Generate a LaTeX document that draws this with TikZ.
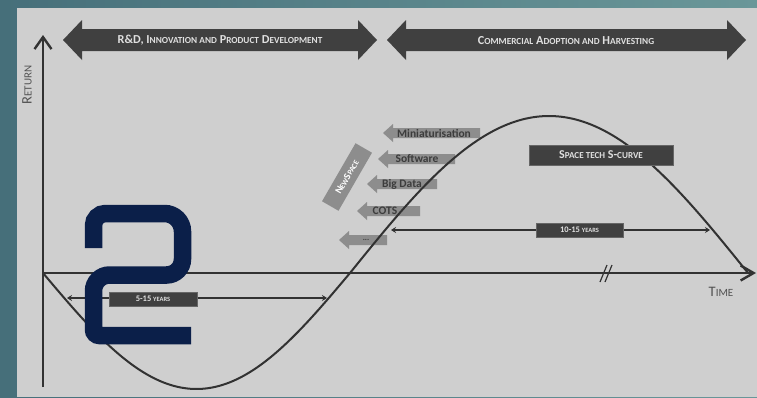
\documentclass[tikz,border=0pt]{standalone}
\usepackage{fontspec}
\setmainfont{Carlito}
\usetikzlibrary{arrows.meta}

% fake small caps: lower-case letters set as capitals at 76% of the current size
\makeatletter
\newcommand{\lc}[1]{{\fontsize{\the\dimexpr\f@size pt*76/100\relax}{\baselineskip}\selectfont #1}}
\makeatother
% grey left-pointing tech arrow: tip x, right end x, y, node name, label centre x, label
\newcommand{\techarrow}[6]{%
  \fill[techfill] (#1,#3) -- ++(10,-9) -- ++(0,4) -- (#2,#3-5) -- (#2,#3+5)
    -- (#1+10,#3+5) -- ++(0,4) -- cycle;
  \node[techtext] (#4) at (#5,#3) {#6};}

\definecolor{bgleft}{RGB}{70,111,122}
\definecolor{bgright}{RGB}{106,151,153}
\definecolor{panel}{RGB}{207,207,207}
\definecolor{darkbar}{RGB}{64,64,64}
\definecolor{inkline}{RGB}{50,50,50}
\definecolor{techfill}{RGB}{141,141,141}
\definecolor{techink}{RGB}{60,60,60}
\definecolor{navy}{RGB}{11,31,73}

\tikzset{
  axisline/.style={draw=inkline, line width=2.6pt},
  curveline/.style={draw=inkline, line width=2pt},
  spanline/.style={draw=inkline, line width=1.8pt,
    {Stealth[length=5pt,width=6pt]}-{Stealth[length=5pt,width=6pt]}},
  bartext/.style={text=white!88!black, font=\bfseries\fontsize{12.2}{13}\selectfont, inner sep=0pt},
  darkbox/.style={fill=darkbar, draw=darkbar!80!white, line width=0.6pt, text=white!88!black,
    font=\bfseries, inner sep=0pt},
  techtext/.style={text=techink, font=\bfseries\fontsize{11.5}{12}\selectfont, inner sep=0pt},
  axislabel/.style={text=black!68, font=\fontsize{14.5}{15}\selectfont, inner sep=0pt},
  twostroke/.style={draw=navy, line width=17.5pt},
}

\begin{document}
\begin{tikzpicture}[x=1pt,y=-1pt]
\useasboundingbox (0,0) rectangle (757,397);

% backdrop and light panel
\shade[left color=bgleft, right color=bgright] (0,0) rectangle (757,397);
\fill[panel] (17,8) rectangle (757,397);

% phase banners
\fill[darkbar] (63,40) -- (82,20) -- (82,29) -- (358,29) -- (358,20) -- (377,40)
  -- (358,60) -- (358,51) -- (82,51) -- (82,60) -- cycle;
\node[bartext] (rnd) at (220,40.5) {R\&D, I\lc{NNOVATION AND} P\lc{RODUCT} D\lc{EVELOPMENT}};
\fill[darkbar] (387,40) -- (406,20) -- (406,29) -- (727,29) -- (727,20) -- (746,40)
  -- (727,60) -- (727,51) -- (406,51) -- (406,60) -- cycle;
\node[bartext] (commercial) at (566,40.5) {C\lc{OMMERCIAL} A\lc{DOPTION AND} H\lc{ARVESTING}};

% technology drivers
\techarrow{383}{480}{133}{mini}{434}{Miniaturisation}
\techarrow{378}{455}{159}{soft}{417}{Software}
\techarrow{367}{437}{184}{bigdata}{402}{Big Data}
\techarrow{357}{420}{211}{cots}{385}{COTS}
\techarrow{339}{387}{240}{more}{366}{\fontsize{8}{9}\selectfont ...}
\node[fill=techfill, rotate=60, minimum width=67pt, minimum height=19pt, inner sep=0pt,
  text=white, font=\bfseries\fontsize{10}{11}\selectfont] (newspace) at (347,177)
  {N\lc{EW}S\lc{PACE}};

% axes
\coordinate (origin) at (43,273);
\coordinate (ybottom) at (43,387);
\coordinate (ytop) at (43,35);
\coordinate (xend) at (756,273);
\draw[axisline, -{Straight Barb[length=12pt,width=17pt,line width=2.4pt]}] (ybottom) -- (ytop);
\draw[axisline, -{Straight Barb[length=13pt,width=15pt,line width=2.4pt]}] (origin) -- (xend);
\node[axislabel, rotate=90] (return) at (27,85) {R\lc{ETURN}};
\node[axislabel] (time) at (721,292) {T\lc{IME}};

% axis break mark
\coordinate (b1a) at (600,282); \coordinate (b1b) at (607,265);
\coordinate (b2a) at (605,282); \coordinate (b2b) at (612,265);
\draw[inkline, line width=1.2pt] (b1a) -- (b1b) (b2a) -- (b2b);

% the S-curve
\draw[curveline]
  plot[domain=43:350, samples=90] (\x, {273+116*sin((\x-43)/307*180)})
  -- plot[domain=350:748, samples=110] (\x, {273-157*sin((\x-350)/398*180)});

% time spans
\coordinate (s1l) at (67,298); \coordinate (s1r) at (327,298);
\draw[spanline] (s1l) -- (s1r);
\node[darkbox, minimum width=88pt, minimum height=14pt, font=\bfseries\fontsize{8.5}{9}\selectfont]
  (fifteen) at (153,299) {5-15 \lc{YEARS}};
\coordinate (s2l) at (391,230); \coordinate (s2r) at (710,230);
\draw[spanline] (s2l) -- (s2r);
\node[darkbox, minimum width=87pt, minimum height=14pt, font=\bfseries\fontsize{8.5}{9}\selectfont]
  (tenfifteen) at (579.5,230) {10-15 \lc{YEARS}};

\node[darkbox, minimum width=144pt, minimum height=20pt, font=\bfseries\fontsize{12}{13}\selectfont]
  (scurve) at (601,155) {S\lc{PACE TECH} S-\lc{CURVE}};

% large numeral
\draw[twostroke] (93.5,248)
  [rounded corners=12pt] -- (93.5,213.5)
  [rounded corners=18pt] -- (182.5,213.5)
  [rounded corners=16pt] -- (182.5,275)
  [rounded corners=16pt] -- (93.5,275)
  [rounded corners=6pt] -- (93.5,335.5)
  -- (191,335.5);
\end{tikzpicture}
\end{document}
